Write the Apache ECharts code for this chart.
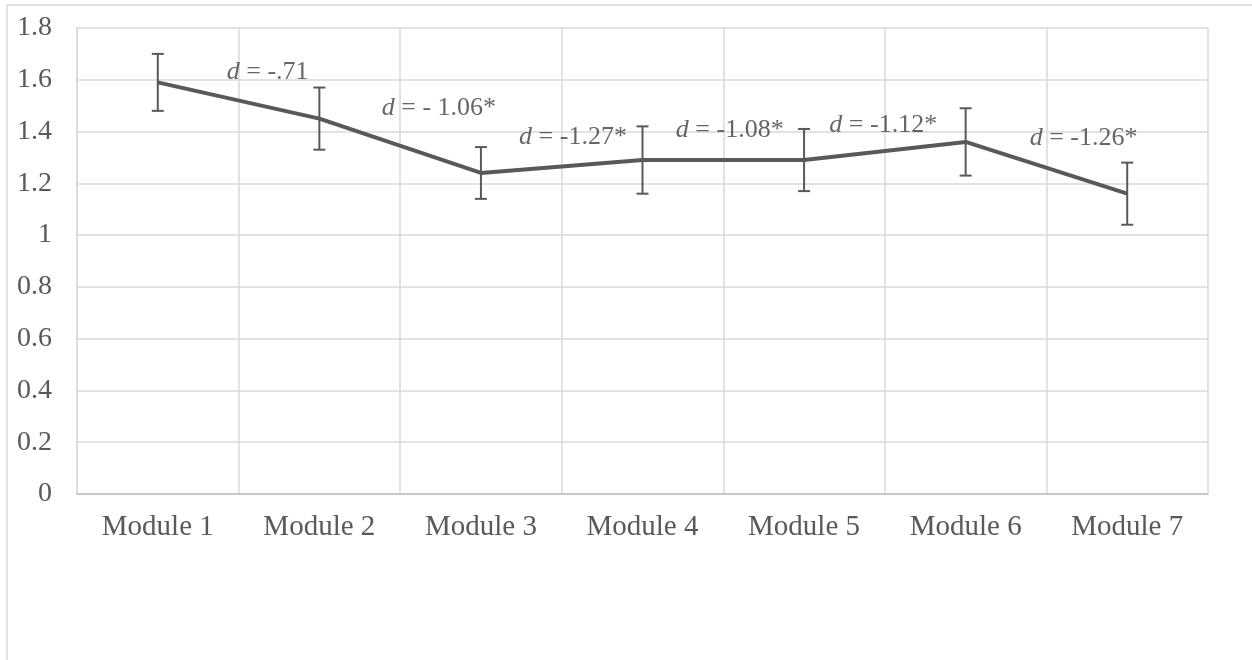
<!DOCTYPE html>
<html>
<head>
<meta charset="utf-8">
<script src="https://cdn.jsdelivr.net/npm/echarts@6/dist/echarts.min.js"></script>
<style>
  html, body { margin: 0; padding: 0; background: #fff; }
  #chart { width: 1252px; height: 660px; }
</style>
</head>
<body>
<div id="chart"></div>
<script>
// data
const categories = ['Module 1', 'Module 2', 'Module 3', 'Module 4', 'Module 5', 'Module 6', 'Module 7'];
const means = [1.59, 1.45, 1.24, 1.29, 1.29, 1.36, 1.16];
const errLow = [1.48, 1.33, 1.14, 1.16, 1.17, 1.23, 1.04];
const errHigh = [1.70, 1.57, 1.34, 1.42, 1.41, 1.49, 1.28];

// effect size notes, anchored in data units (x: 0..7 across the categories)
const effectText = ['-.71', '- 1.06*', '-1.27*', '-1.08*', '-1.12*', '-1.26*'];
const effectX = [1.18, 2.24, 3.07, 4.04, 4.99, 6.23];
const effectY = [1.63, 1.49, 1.38, 1.405, 1.425, 1.375];

const font = '"Liberation Serif", "Times New Roman", serif';
const ink = '#595959';
const noteInk = '#404040';

const chart = echarts.init(document.getElementById('chart'));

function renderErrorBar(params, api) {
    const i = api.value(0);
    const lo = api.coord([i, api.value(1)]);
    const hi = api.coord([i, api.value(2)]);
    const w = 6;
    const st = { stroke: ink, lineWidth: 2 };
    return {
        type: 'group',
        children: [
            { type: 'line', shape: { x1: hi[0], y1: hi[1], x2: lo[0], y2: lo[1] }, style: st },
            { type: 'line', shape: { x1: hi[0] - w, y1: hi[1], x2: hi[0] + w, y2: hi[1] }, style: st },
            { type: 'line', shape: { x1: lo[0] - w, y1: lo[1], x2: lo[0] + w, y2: lo[1] }, style: st }
        ]
    };
}

const option = {
    animation: false,
    textStyle: { fontFamily: font },
    grid: { left: 77, right: 44, top: 28, bottom: 166 },
    graphic: [
        { type: 'line', shape: { x1: 7, y1: 5, x2: 1252, y2: 5 }, style: { stroke: '#d9d9d9', lineWidth: 1.5 } },
        { type: 'line', shape: { x1: 7, y1: 5, x2: 7, y2: 660 }, style: { stroke: '#d9d9d9', lineWidth: 1.5 } }
    ],
    xAxis: [
        {
            type: 'category',
            data: categories,
            boundaryGap: true,
            axisLine: { lineStyle: { color: '#bfbfbf', width: 1.5 } },
            axisTick: { show: false },
            splitLine: { show: true, lineStyle: { color: '#d9d9d9', width: 1.5 } },
            axisLabel: { color: ink, fontSize: 29, fontFamily: font, margin: 19 }
        },
        {
            type: 'value',
            min: 0,
            max: 7,
            show: false
        }
    ],
    yAxis: {
        type: 'value',
        min: 0,
        max: 1.8,
        interval: 0.2,
        axisLine: { show: true, lineStyle: { color: '#d9d9d9', width: 1.5 } },
        axisTick: { show: false },
        splitLine: { lineStyle: { color: '#d9d9d9', width: 1.5 } },
        axisLabel: { color: ink, fontSize: 28, fontFamily: font, margin: 25 }
    },
    series: [
        {
            type: 'line',
            data: means,
            symbol: 'none',
            lineStyle: { color: ink, width: 4 },
            z: 3
        },
        {
            type: 'custom',
            renderItem: renderErrorBar,
            data: categories.map((c, i) => [i, errLow[i], errHigh[i]]),
            z: 4
        },
        {
            type: 'scatter',
            xAxisIndex: 1,
            symbolSize: 0,
            data: effectText.map((t, i) => ({ value: [effectX[i], effectY[i]], name: t })),
            label: {
                show: true,
                position: 'inside',
                formatter: p => '{i|d} = ' + p.name,
                color: noteInk,
                fontSize: 26,
                fontFamily: font,
                rich: {
                    i: { fontStyle: 'italic', fontSize: 26, fontFamily: font, color: noteInk }
                }
            },
            z: 5
        }
    ]
};

chart.setOption(option);
</script>
</body>
</html>
